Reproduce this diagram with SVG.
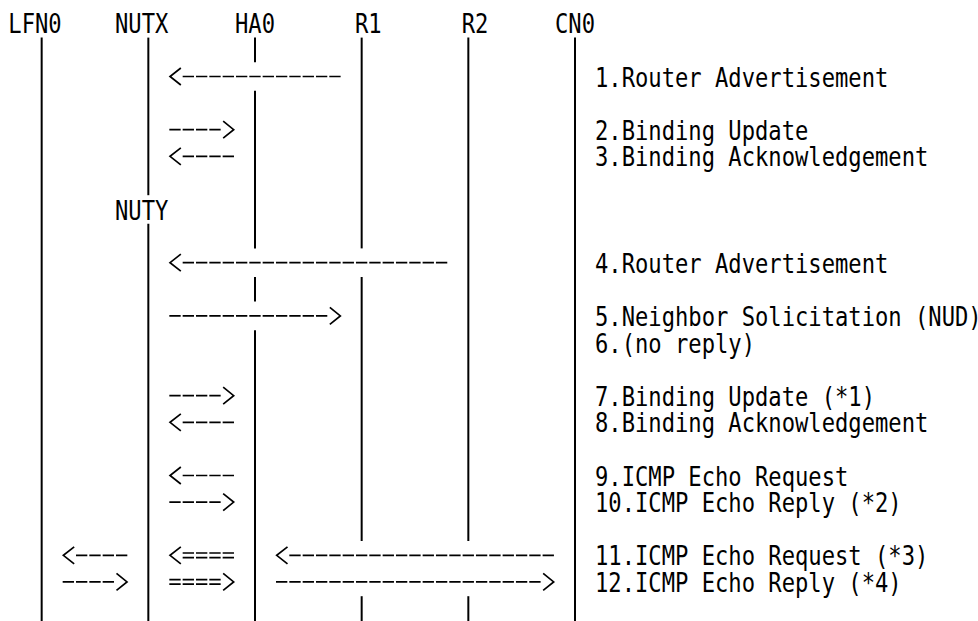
<svg xmlns="http://www.w3.org/2000/svg" xmlns:xlink="http://www.w3.org/1999/xlink" width="978" height="621" viewBox="0 0 978 621">
<style>
.life{stroke:#000;stroke-width:2;fill:none}
.dash{stroke:#000;stroke-width:1.7;stroke-dasharray:11.33 2;fill:none}
.head{stroke:#000;stroke-width:1.7;fill:none;stroke-linejoin:miter}
text{font-family:"DejaVu Sans Mono","Liberation Mono",monospace;font-size:27px;fill:#000;lengthAdjust:spacingAndGlyphs}
</style>
<defs>
<polyline id="lt" class="head" points="12.5,-8.5 1.7,0 12.5,8.5"/>
<polyline id="gt" class="head" points="1.5,-8.5 12,0 1.5,8.5"/>
</defs>
<rect width="978" height="621" fill="#fff"/>
<g id="node-LFN0">
<text x="8.33" y="33.3" textLength="53.33" lengthAdjust="spacingAndGlyphs">LFN0</text>
<line class="life" x1="41.67" y1="37.6" x2="41.67" y2="621"/>
</g>
<g id="node-NUTX">
<text x="115" y="33.3" textLength="53.33" lengthAdjust="spacingAndGlyphs">NUTX</text>
<line class="life" x1="148.33" y1="37.6" x2="148.33" y2="195.2"/>
</g>
<g id="node-NUTY">
<text x="115" y="219.5" textLength="53.33" lengthAdjust="spacingAndGlyphs">NUTY</text>
<line class="life" x1="148.33" y1="223.8" x2="148.33" y2="621"/>
</g>
<g id="node-HA0">
<text x="235" y="33.3" textLength="40" lengthAdjust="spacingAndGlyphs">HA0</text>
<line class="life" x1="255" y1="37.6" x2="255" y2="62.2"/>
<line class="life" x1="255" y1="90.8" x2="255" y2="248.4"/>
<line class="life" x1="255" y1="277" x2="255" y2="301.6"/>
<line class="life" x1="255" y1="330.2" x2="255" y2="621"/>
</g>
<g id="node-R1">
<text x="355" y="33.3" textLength="26.67" lengthAdjust="spacingAndGlyphs">R1</text>
<line class="life" x1="361.67" y1="37.6" x2="361.67" y2="248.4"/>
<line class="life" x1="361.67" y1="277" x2="361.67" y2="541"/>
<line class="life" x1="361.67" y1="596.2" x2="361.67" y2="621"/>
</g>
<g id="node-R2">
<text x="461.67" y="33.3" textLength="26.67" lengthAdjust="spacingAndGlyphs">R2</text>
<line class="life" x1="468.33" y1="37.6" x2="468.33" y2="541"/>
<line class="life" x1="468.33" y1="596.2" x2="468.33" y2="621"/>
</g>
<g id="node-CN0">
<text x="555" y="33.3" textLength="40" lengthAdjust="spacingAndGlyphs">CN0</text>
<line class="life" x1="575" y1="37.6" x2="575" y2="621"/>
</g>
<g id="connectors">
<g id="msg1"><use xlink:href="#lt" href="#lt" x="168.33" y="76.5"/><line class="dash" x1="182.67" y1="76.5" x2="340.67" y2="76.5"/></g>
<g id="msg2"><line class="dash" x1="169.33" y1="129.7" x2="220.67" y2="129.7"/><use xlink:href="#gt" href="#gt" x="221.67" y="129.7"/></g>
<g id="msg3"><use xlink:href="#lt" href="#lt" x="168.33" y="156.3"/><line class="dash" x1="182.67" y1="156.3" x2="234" y2="156.3"/></g>
<g id="msg4"><use xlink:href="#lt" href="#lt" x="168.33" y="262.7"/><line class="dash" x1="182.67" y1="262.7" x2="447.33" y2="262.7"/></g>
<g id="msg5"><line class="dash" x1="169.33" y1="315.9" x2="327.33" y2="315.9"/><use xlink:href="#gt" href="#gt" x="328.33" y="315.9"/></g>
<g id="msg7"><line class="dash" x1="169.33" y1="395.7" x2="220.67" y2="395.7"/><use xlink:href="#gt" href="#gt" x="221.67" y="395.7"/></g>
<g id="msg8"><use xlink:href="#lt" href="#lt" x="168.33" y="422.3"/><line class="dash" x1="182.67" y1="422.3" x2="234" y2="422.3"/></g>
<g id="msg9"><use xlink:href="#lt" href="#lt" x="168.33" y="475.5"/><line class="dash" x1="182.67" y1="475.5" x2="234" y2="475.5"/></g>
<g id="msg10"><line class="dash" x1="169.33" y1="502.1" x2="220.67" y2="502.1"/><use xlink:href="#gt" href="#gt" x="221.67" y="502.1"/></g>
<g id="msg11">
<use xlink:href="#lt" href="#lt" x="61.67" y="555.3"/><line class="dash" x1="76" y1="555.3" x2="127.33" y2="555.3"/>
<use xlink:href="#lt" href="#lt" x="168.33" y="555.3"/><line class="dash" x1="182.67" y1="553" x2="234" y2="553"/><line class="dash" x1="182.67" y1="557.6" x2="234" y2="557.6"/>
<use xlink:href="#lt" href="#lt" x="275" y="555.3"/><line class="dash" x1="289.33" y1="555.3" x2="554" y2="555.3"/>
</g>
<g id="msg12">
<line class="dash" x1="62.67" y1="581.9" x2="114" y2="581.9"/><use xlink:href="#gt" href="#gt" x="115" y="581.9"/>
<line class="dash" x1="169.33" y1="579.6" x2="220.67" y2="579.6"/><line class="dash" x1="169.33" y1="584.2" x2="220.67" y2="584.2"/><use xlink:href="#gt" href="#gt" x="221.67" y="581.9"/>
<line class="dash" x1="276" y1="581.9" x2="540.67" y2="581.9"/><use xlink:href="#gt" href="#gt" x="541.67" y="581.9"/>
</g>
</g>
<g id="labels">
<text x="595" y="86.5" textLength="293.33" lengthAdjust="spacingAndGlyphs">1.Router Advertisement</text>
<text x="595" y="139.7" textLength="213.33" lengthAdjust="spacingAndGlyphs">2.Binding Update</text>
<text x="595" y="166.3" textLength="333.33" lengthAdjust="spacingAndGlyphs">3.Binding Acknowledgement</text>
<text x="595" y="272.7" textLength="293.33" lengthAdjust="spacingAndGlyphs">4.Router Advertisement</text>
<text x="595" y="325.9" textLength="386.67" lengthAdjust="spacingAndGlyphs">5.Neighbor Solicitation (NUD)</text>
<text x="595" y="352.5" textLength="160" lengthAdjust="spacingAndGlyphs">6.(no reply)</text>
<text x="595" y="405.7" textLength="280" lengthAdjust="spacingAndGlyphs">7.Binding Update (*1)</text>
<text x="595" y="432.3" textLength="333.33" lengthAdjust="spacingAndGlyphs">8.Binding Acknowledgement</text>
<text x="595" y="485.5" textLength="253.33" lengthAdjust="spacingAndGlyphs">9.ICMP Echo Request</text>
<text x="595" y="512.1" textLength="306.67" lengthAdjust="spacingAndGlyphs">10.ICMP Echo Reply (*2)</text>
<text x="595" y="565.3" textLength="333.33" lengthAdjust="spacingAndGlyphs">11.ICMP Echo Request (*3)</text>
<text x="595" y="591.9" textLength="306.67" lengthAdjust="spacingAndGlyphs">12.ICMP Echo Reply (*4)</text>
</g>
</svg>
